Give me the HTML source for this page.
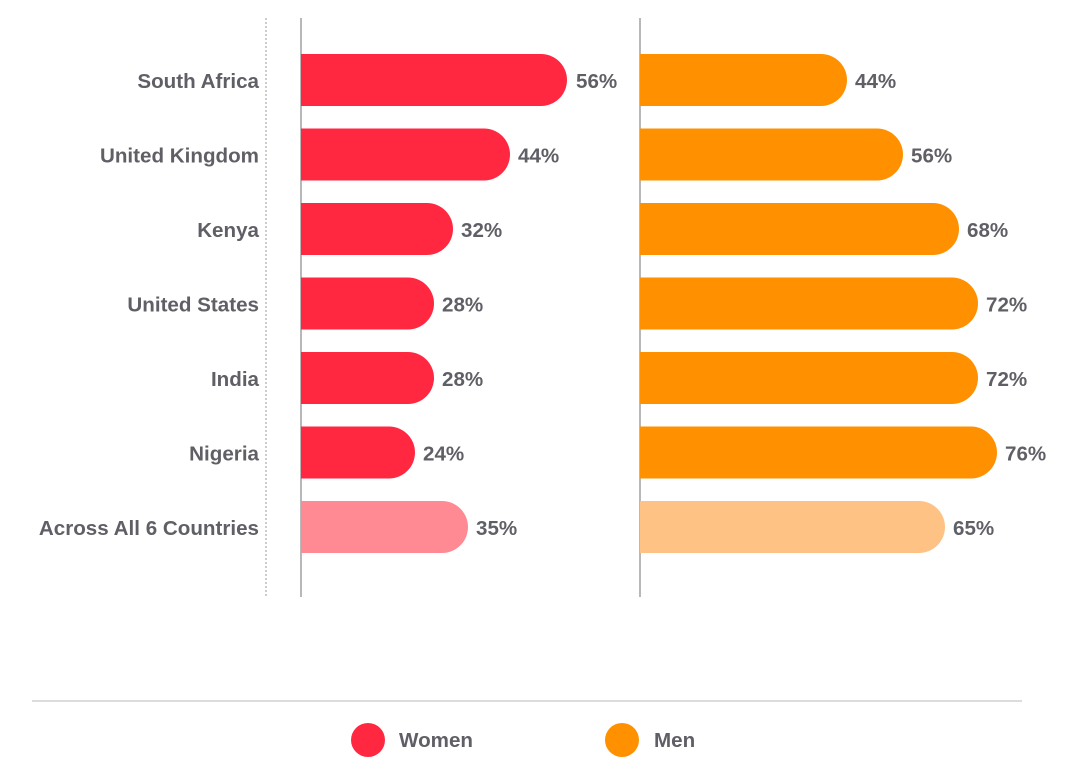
<!DOCTYPE html>
<html><head><meta charset="utf-8"><style>
html,body{margin:0;padding:0;background:#fff;}
svg{display:block;}
text{font-family:"Liberation Sans",sans-serif;font-weight:bold;fill:#5f5f66;}
</style></head><body>
<svg width="1075" height="774" viewBox="0 0 1075 774">
<line x1="266" y1="18" x2="266" y2="596" stroke="#999" stroke-width="1" stroke-dasharray="2,2"/>
<line x1="301" y1="18" x2="301" y2="597" stroke="#888" stroke-width="1.2"/>
<line x1="640" y1="18" x2="640" y2="597" stroke="#888" stroke-width="1.2"/>
<g font-size="20.6">
<g>
<path d="M301 54 H541 A26 26 0 0 1 541 106 H301 Z" fill="#ff2840"/>
<text x="259" y="88" text-anchor="end">South Africa</text>
<text x="576" y="88">56%</text>
<path d="M640 54 H821 A26 26 0 0 1 821 106 H640 Z" fill="#ff9000"/>
<text x="855" y="88">44%</text>
</g>
<g transform="translate(0,74.5)">
<path d="M301 54 H484 A26 26 0 0 1 484 106 H301 Z" fill="#ff2840"/>
<text x="259" y="88" text-anchor="end">United Kingdom</text>
<text x="518" y="88">44%</text>
<path d="M640 54 H877 A26 26 0 0 1 877 106 H640 Z" fill="#ff9000"/>
<text x="911" y="88">56%</text>
</g>
<g transform="translate(0,149)">
<path d="M301 54 H427 A26 26 0 0 1 427 106 H301 Z" fill="#ff2840"/>
<text x="259" y="88" text-anchor="end">Kenya</text>
<text x="461" y="88">32%</text>
<path d="M640 54 H933 A26 26 0 0 1 933 106 H640 Z" fill="#ff9000"/>
<text x="967" y="88">68%</text>
</g>
<g transform="translate(0,223.5)">
<path d="M301 54 H408 A26 26 0 0 1 408 106 H301 Z" fill="#ff2840"/>
<text x="259" y="88" text-anchor="end">United States</text>
<text x="442" y="88">28%</text>
<path d="M640 54 H952 A26 26 0 0 1 952 106 H640 Z" fill="#ff9000"/>
<text x="986" y="88">72%</text>
</g>
<g transform="translate(0,298)">
<path d="M301 54 H408 A26 26 0 0 1 408 106 H301 Z" fill="#ff2840"/>
<text x="259" y="88" text-anchor="end">India</text>
<text x="442" y="88">28%</text>
<path d="M640 54 H952 A26 26 0 0 1 952 106 H640 Z" fill="#ff9000"/>
<text x="986" y="88">72%</text>
</g>
<g transform="translate(0,372.5)">
<path d="M301 54 H389 A26 26 0 0 1 389 106 H301 Z" fill="#ff2840"/>
<text x="259" y="88" text-anchor="end">Nigeria</text>
<text x="423" y="88">24%</text>
<path d="M640 54 H971 A26 26 0 0 1 971 106 H640 Z" fill="#ff9000"/>
<text x="1005" y="88">76%</text>
</g>
<g transform="translate(0,447)">
<path d="M301 54 H442 A26 26 0 0 1 442 106 H301 Z" fill="#ff8a93"/>
<text x="259" y="88" text-anchor="end">Across All 6 Countries</text>
<text x="476" y="88">35%</text>
<path d="M640 54 H919 A26 26 0 0 1 919 106 H640 Z" fill="#ffc285"/>
<text x="953" y="88">65%</text>
</g>
</g>
<line x1="32" y1="701" x2="1022" y2="701" stroke="#dcdcdc" stroke-width="2"/>
<circle cx="368" cy="740" r="17" fill="#ff2840"/>
<text x="399" y="747" font-size="20.6">Women</text>
<circle cx="622" cy="740" r="17" fill="#ff9000"/>
<text x="654" y="747" font-size="20.6">Men</text>
</svg>
</body></html>
